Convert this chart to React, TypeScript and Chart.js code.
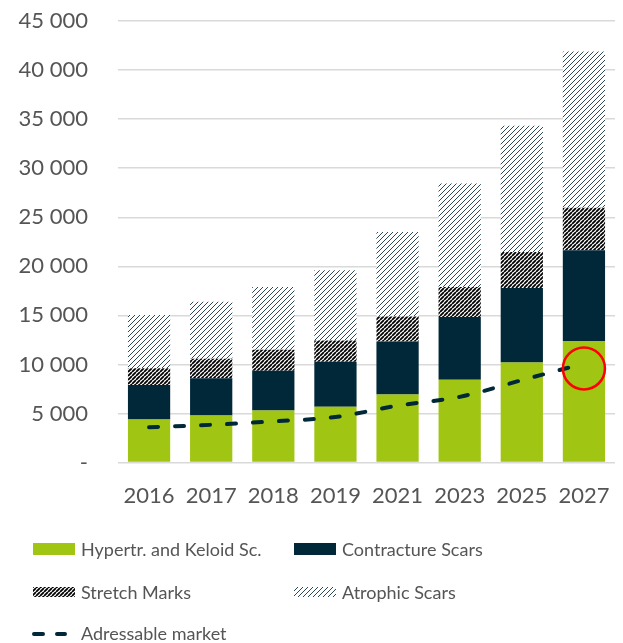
import React, { useEffect, useRef } from 'react';
import { Chart, registerables } from 'chart.js';

Chart.register(...registerables);

const categories = ['2016', '2017', '2018', '2019', '2021', '2023', '2025', '2027'];
const hypertrophic = [4400, 4800, 5300, 5700, 6950, 8430, 10200, 12400];
const contracture = [3500, 3800, 4060, 4570, 5400, 6400, 7600, 9250];
const stretchMarks = [1720, 1980, 2140, 2180, 2550, 3060, 3670, 4320];
const atrophic = [5410, 5820, 6390, 7140, 8600, 10550, 12860, 15920];
const addressable = [3600, 3850, 4200, 4650, 5800, 6700, 8400, 10100];
const highlightIndex = 7;
const highlightValue = 9600;
const yTicks = [0, 5000, 10000, 15000, 20000, 25000, 30000, 35000, 40000, 45000];

const GREEN = '#a0c613';
const NAVY = '#002838';
const TEXT = '#555555';
const FONT = 'Lato, "Open Sans", sans-serif';

function makePattern(kind: 'stretch' | 'atrophic'): CanvasPattern | string {
  const c = document.createElement('canvas');
  const s = kind === 'stretch' ? 4 : 5;
  c.width = s;
  c.height = s;
  const g = c.getContext('2d');
  if (!g) return '#888';
  g.fillStyle = '#ffffff';
  g.fillRect(0, 0, s, s);
  g.strokeStyle = kind === 'stretch' ? '#000000' : '#2c4a56';
  g.lineWidth = kind === 'stretch' ? 1.8 : 1;
  g.beginPath();
  for (let k = -1; k <= 1; k++) {
    g.moveTo(k * s, s);
    g.lineTo(k * s + s, 0);
  }
  g.stroke();
  const p = g.createPattern(c, 'repeat');
  return p || '#888';
}

function fmt(v: number): string {
  if (v === 0) return '-';
  return String(v).replace(/\B(?=(\d{3})+(?!\d))/g, ' ');
}

export default function App() {
  const ref = useRef<HTMLCanvasElement | null>(null);
  useEffect(() => {
    if (!ref.current) return;
    const stretchPat = makePattern('stretch');
    const atrophicPat = makePattern('atrophic');

    const circlePlugin = {
      id: 'highlightCircle',
      afterDatasetsDraw(chart: any) {
        const ctx = chart.ctx as CanvasRenderingContext2D;
        const x = chart.scales.x.getPixelForValue(highlightIndex);
        const y = chart.scales.y.getPixelForValue(highlightValue);
        ctx.save();
        ctx.strokeStyle = '#ff0000';
        ctx.lineWidth = 2.5;
        ctx.beginPath();
        ctx.arc(x, y, 21, 0, Math.PI * 2);
        ctx.stroke();
        ctx.restore();
      },
    };

    const legendPlugin = {
      id: 'customLegend',
      afterDraw(chart: any) {
        const ctx = chart.ctx as CanvasRenderingContext2D;
        ctx.save();
        ctx.font = `18px ${FONT}`;
        ctx.fillStyle = TEXT;
        ctx.textBaseline = 'middle';
        const items = [
          { x: 33, y: 549, label: 'Hypertr. and Keloid Sc.', fill: GREEN, h: 12 },
          { x: 294, y: 549, label: 'Contracture Scars', fill: NAVY, h: 12 },
          { x: 33, y: 592, label: 'Stretch Marks', fill: stretchPat, h: 10 },
          { x: 294, y: 592, label: 'Atrophic Scars', fill: atrophicPat, h: 10 },
        ];
        for (const it of items) {
          ctx.fillStyle = it.fill as any;
          ctx.fillRect(it.x, it.y - it.h / 2, 42, it.h);
          ctx.fillStyle = TEXT;
          ctx.fillText(it.label, it.x + 48, it.y + 1);
        }
        ctx.strokeStyle = NAVY;
        ctx.lineWidth = 4;
        ctx.lineCap = 'round';
        ctx.beginPath();
        ctx.moveTo(34, 634);
        ctx.lineTo(43, 634);
        ctx.moveTo(57, 634);
        ctx.lineTo(65, 634);
        ctx.stroke();
        ctx.fillStyle = TEXT;
        ctx.fillText('Adressable market', 81, 634);
        ctx.restore();
      },
    };

    const chart = new Chart(ref.current, {
      type: 'bar',
      data: {
        labels: categories,
        datasets: [
          {
            type: 'line',
            label: 'Adressable market',
            data: addressable,
            borderColor: NAVY,
            borderWidth: 4,
            borderDash: [9, 17],
            borderCapStyle: 'round',
            pointRadius: 0,
            tension: 0.3,
            cubicInterpolationMode: 'monotone',
            fill: false,
            stack: 'line',
            order: 1,
          } as any,
          { label: 'Hypertr. and Keloid Sc.', data: hypertrophic, backgroundColor: GREEN, stack: 'bars', order: 2 },
          { label: 'Contracture Scars', data: contracture, backgroundColor: NAVY, stack: 'bars', order: 2 },
          { label: 'Stretch Marks', data: stretchMarks, backgroundColor: stretchPat as any, stack: 'bars', order: 2 },
          { label: 'Atrophic Scars', data: atrophic, backgroundColor: atrophicPat as any, stack: 'bars', order: 2 },
        ],
      },
      options: {
        animation: false,
        responsive: false,
        maintainAspectRatio: false,
        datasets: { bar: { barPercentage: 0.68, categoryPercentage: 1 } },
        layout: { padding: { top: 21, right: 8, bottom: 122, left: 0 } },
        plugins: { legend: { display: false }, tooltip: { enabled: false } },
        scales: {
          x: {
            stacked: true,
            grid: { display: false },
            border: { display: false },
            ticks: { color: TEXT, font: { family: FONT, size: 22 }, padding: 12, maxRotation: 0 },
          },
          y: {
            stacked: true,
            min: 0,
            max: 45000,
            afterBuildTicks: (axis: any) => {
              axis.ticks = yTicks.map((v) => ({ value: v }));
            },
            afterFit: (axis: any) => {
              axis.width = 118;
              axis.paddingTop = 0;
              axis.paddingBottom = 0;
            },
            grid: { color: '#d9d9d9', lineWidth: 1.5, drawTicks: false },
            border: { display: false },
            ticks: {
              color: TEXT,
              font: { family: FONT, size: 22 },
              padding: 30,
              callback: (v: any) => fmt(Number(v)),
            },
          },
        },
      },
      plugins: [circlePlugin, legendPlugin],
    });
    return () => chart.destroy();
  }, []);

  return (
    <div style={{ position: 'fixed', left: 0, top: 0, width: 623, height: 643, background: '#fff' }}>
      <canvas ref={ref} width={623} height={643} style={{ width: 623, height: 643 }} />
    </div>
  );
}
